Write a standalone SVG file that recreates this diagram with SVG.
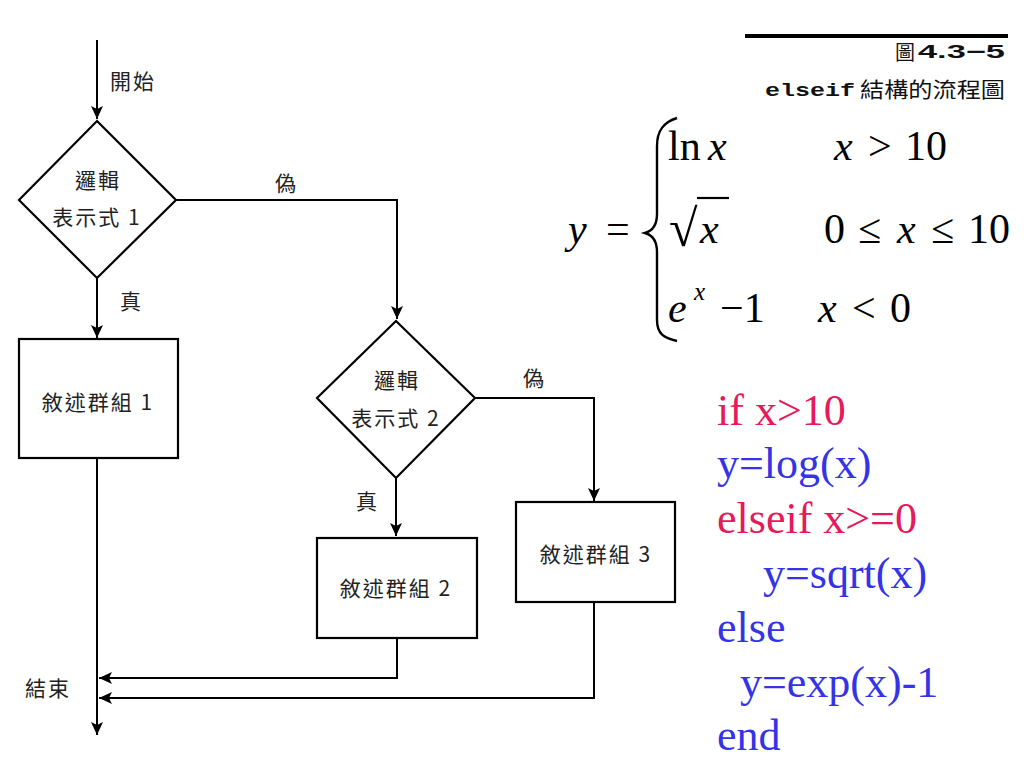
<svg xmlns="http://www.w3.org/2000/svg" width="1024" height="768" viewBox="0 0 1024 768">
<defs>
<marker id="arr" markerWidth="14" markerHeight="12" refX="13" refY="6" orient="auto" markerUnits="userSpaceOnUse">
<path d="M0,0 L13,6 L0,12 L3,6 z" fill="#000"/>
</marker>
<style>
.ln{fill:none;stroke:#000;stroke-width:2}
.shape{fill:#fff;stroke:#000;stroke-width:2.2}
.lbl{font-family:"Noto Sans CJK TC","Liberation Sans",sans-serif;font-size:21px;fill:#222;letter-spacing:2px}
.c{text-anchor:middle}
.m{font-family:"Liberation Serif",serif;font-size:42px;fill:#000}
.i{font-style:italic}
.code{font-family:"Liberation Serif",serif;font-size:44px}
.red{fill:#E6195A}
.blue{fill:#3434E6}
</style>
</defs>
<rect width="1024" height="768" fill="#fff"/>

<g id="connectors">
<path class="ln" d="M97,40 V119" marker-end="url(#arr)"/>
<path class="ln" d="M97,278 V338" marker-end="url(#arr)"/>
<path class="ln" d="M176,200 H397 V319" marker-end="url(#arr)"/>
<path class="ln" d="M396,478 V536" marker-end="url(#arr)"/>
<path class="ln" d="M475,398 H594 V501" marker-end="url(#arr)"/>
<path class="ln" d="M97,458 V735" marker-end="url(#arr)"/>
<path class="ln" d="M397,638 V678 H99" marker-end="url(#arr)"/>
<path class="ln" d="M594,602 V698 H99" marker-end="url(#arr)"/>
</g>

<g id="start"><text class="lbl" x="110" y="89">開始</text></g>
<g id="cond1">
<polygon class="shape" points="97,121 176,200 97,278 19,200"/>
<text class="lbl c" x="98" y="188">邏輯</text>
<text class="lbl c" x="97" y="225">表示式 1</text>
</g>
<g id="lbl-false1"><text class="lbl" x="275" y="191">偽</text></g>
<g id="lbl-true1"><text class="lbl" x="120" y="309">真</text></g>
<g id="block1">
<rect class="shape" x="19" y="339" width="159" height="119"/>
<text class="lbl c" x="98" y="410">敘述群組 1</text>
</g>
<g id="cond2">
<polygon class="shape" points="396,321 475,398 396,478 317,398"/>
<text class="lbl c" x="397" y="388">邏輯</text>
<text class="lbl c" x="396" y="426">表示式 2</text>
</g>
<g id="lbl-false2"><text class="lbl" x="523" y="386">偽</text></g>
<g id="lbl-true2"><text class="lbl" x="356" y="509">真</text></g>
<g id="block2">
<rect class="shape" x="317" y="538" width="160" height="100"/>
<text class="lbl c" x="396" y="596">敘述群組 2</text>
</g>
<g id="block3">
<rect class="shape" x="516" y="502" width="159" height="100"/>
<text class="lbl c" x="596" y="562">敘述群組 3</text>
</g>
<g id="end"><text class="lbl" x="25" y="696">結束</text></g>

<g id="caption">
<line x1="745" y1="36" x2="1008" y2="36" stroke="#000" stroke-width="4"/>
<text x="895" y="60" font-family="Noto Sans CJK TC, sans-serif" font-size="20" fill="#111">圖</text>
<text x="918" y="58" font-family="Liberation Sans, sans-serif" font-weight="bold" font-size="19" fill="#111" textLength="87" lengthAdjust="spacingAndGlyphs">4.3−5</text>
<text x="765" y="96" font-family="Liberation Mono, monospace" font-weight="bold" font-size="19" fill="#111" textLength="90" lengthAdjust="spacingAndGlyphs">elseif</text>
<text x="860" y="97" font-family="Noto Sans CJK TC, sans-serif" font-size="21" fill="#111" textLength="145" lengthAdjust="spacingAndGlyphs">結構的流程圖</text>
</g>

<g id="formula">
<text class="m i" x="568" y="243">y</text>
<text class="m" x="606" y="243">=</text>
<path d="M677,118 C664,122 657,130 657,146 L657,214 C657,226 652,231 645,233 C652,235 657,240 657,252 L657,320 C657,334 664,338 677,341" fill="none" stroke="#000" stroke-width="2.4"/>
<text class="m" x="668" y="160">ln</text>
<text class="m i" x="708" y="160">x</text>
<text class="m i" x="834" y="160">x</text>
<text class="m" x="868" y="160">&gt;</text>
<text class="m" x="905" y="160">10</text>
<text class="m" x="669" y="246" style="font-size:52px">√</text>
<line x1="697" y1="198" x2="729" y2="198" stroke="#000" stroke-width="2.2"/>
<text class="m i" x="700" y="243">x</text>
<text class="m" x="824" y="243">0</text>
<text class="m" x="858" y="243">≤</text>
<text class="m i" x="897" y="243">x</text>
<text class="m" x="931" y="243">≤</text>
<text class="m" x="968" y="243">10</text>
<text class="m i" x="668" y="322">e</text>
<text class="m i" x="694" y="300" style="font-size:25px">x</text>
<text class="m" x="720" y="322">−1</text>
<text class="m i" x="818" y="322">x</text>
<text class="m" x="852" y="322">&lt;</text>
<text class="m" x="890" y="322">0</text>
</g>

<g id="code" class="code">
<text class="code red" x="717" y="425">if x&gt;10</text>
<text class="code blue" x="717" y="478">y=log(x)</text>
<text class="code red" x="717" y="533">elseif x&gt;=0</text>
<text class="code blue" x="763" y="588">y=sqrt(x)</text>
<text class="code blue" x="717" y="642">else</text>
<text class="code blue" x="740" y="697">y=exp(x)-1</text>
<text class="code blue" x="717" y="750">end</text>
</g>
</svg>
